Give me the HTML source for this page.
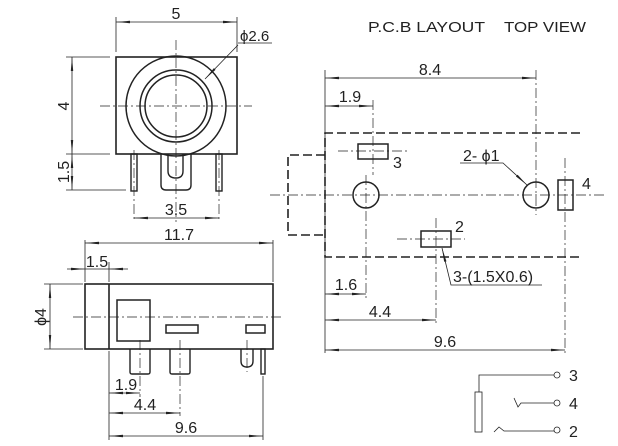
<!DOCTYPE html>
<html><head><meta charset="utf-8"><style>html,body{margin:0;padding:0;background:#fff}svg{display:block}</style></head>
<body>
<svg width="618" height="446" viewBox="0 0 618 446" xmlns="http://www.w3.org/2000/svg" font-family="Liberation Sans, sans-serif" fill="none">
<defs>
<marker id="a" markerWidth="14" markerHeight="6" refX="14" refY="3" orient="auto-start-reverse" markerUnits="userSpaceOnUse"><path d="M0,1.8 L14,3 L0,4.2 Z" fill="#222"/></marker>
</defs>
<g stroke="#222" stroke-width="0.8">
<rect x="116" y="57" width="121" height="97" stroke-width="1.6"/>
<circle cx="176" cy="106" r="50" stroke-width="1.5"/>
<circle cx="176" cy="106" r="36" stroke-width="1.5"/>
<circle cx="176" cy="106" r="31" stroke-width="1.5"/>
<g stroke-dasharray="10,3,2,3" stroke-width="0.7">
<line x1="100" y1="106" x2="252" y2="106"/>
<line x1="176" y1="40" x2="176" y2="222"/>
<line x1="134" y1="150" x2="134" y2="222"/>
<line x1="219" y1="150" x2="219" y2="222"/>
</g>
<rect x="131" y="154" width="6" height="37" stroke-width="1.4"/>
<rect x="216" y="154" width="6" height="37" stroke-width="1.4"/>
<path d="M161,154 V185 Q161,190 166,190 H186 Q191,190 191,185 V154" stroke-width="1.4"/>
<path d="M168,154 V171 Q168,178 176,178 Q183,178 183,171 V154" stroke-width="1.4"/>
<line x1="116" y1="17" x2="116" y2="52"/><line x1="237" y1="17" x2="237" y2="52"/>
<line x1="116" y1="22" x2="237" y2="22" marker-start="url(#a)" marker-end="url(#a)"/>
<line x1="238" y1="43" x2="272" y2="43"/>
<line x1="238" y1="45" x2="205" y2="79" marker-end="url(#a)"/>
<line x1="66" y1="57" x2="110" y2="57"/><line x1="66" y1="154" x2="110" y2="154"/>
<line x1="66" y1="190" x2="126" y2="190"/>
<line x1="72" y1="57" x2="72" y2="154" marker-start="url(#a)" marker-end="url(#a)"/>
<line x1="72" y1="154" x2="72" y2="190" marker-start="url(#a)" marker-end="url(#a)"/>
<line x1="134" y1="218" x2="219" y2="218" marker-start="url(#a)" marker-end="url(#a)"/>

<rect x="85" y="284" width="188" height="65" stroke-width="1.6"/>
<line x1="109" y1="284" x2="109" y2="349" stroke-width="1.6"/>
<rect x="117" y="300" width="33" height="41" stroke-width="1.5"/>
<rect x="166" y="325" width="32" height="8" stroke-width="1.5"/>
<rect x="246" y="325" width="19" height="8" stroke-width="1.5"/>
<path d="M130,349 V372 Q130,374 132,374 H148 Q150,374 150,372 V349" stroke-width="1.4"/>
<path d="M170,349 V372 Q170,374 172,374 H188 Q190,374 190,372 V349" stroke-width="1.4"/>
<path d="M241,349 V361 Q241,367 247,367 Q253,367 253,361 V349" stroke-width="1.4"/>
<rect x="261" y="349" width="4" height="25" stroke-width="1.4"/>
<g stroke-dasharray="10,3,2,3" stroke-width="0.7">
<line x1="73" y1="317" x2="282" y2="317"/>
<line x1="140" y1="340" x2="140" y2="397"/>
<line x1="180" y1="340" x2="180" y2="416"/>
<line x1="247" y1="340" x2="247" y2="372"/>
</g>
<line x1="85" y1="240" x2="85" y2="282"/><line x1="273" y1="240" x2="273" y2="282"/>
<line x1="85" y1="243" x2="273" y2="243" marker-start="url(#a)" marker-end="url(#a)"/>
<line x1="109" y1="262" x2="109" y2="282"/>
<line x1="67" y1="269" x2="85" y2="269" marker-end="url(#a)"/>
<line x1="128" y1="269" x2="109" y2="269" marker-end="url(#a)"/>
<line x1="85" y1="269" x2="109" y2="269"/>
<line x1="44" y1="284" x2="83" y2="284"/><line x1="44" y1="349" x2="83" y2="349"/>
<line x1="50" y1="284" x2="50" y2="349" marker-start="url(#a)" marker-end="url(#a)"/>
<line x1="109" y1="351" x2="109" y2="440"/>
<line x1="263" y1="376" x2="263" y2="440"/>
<line x1="109" y1="393" x2="140" y2="393" marker-start="url(#a)" marker-end="url(#a)"/>
<line x1="109" y1="413" x2="180" y2="413" marker-start="url(#a)" marker-end="url(#a)"/>
<line x1="109" y1="436" x2="263" y2="436" marker-start="url(#a)" marker-end="url(#a)"/>

<g stroke-dasharray="9,4" stroke-width="1.6">
<path d="M580,133 H325 V257 H580"/>
<path d="M325,155 H288 V235 H325"/>
</g>
<g stroke-dasharray="10,3,2,3" stroke-width="0.7">
<line x1="270" y1="195" x2="605" y2="195"/>
<line x1="366" y1="175" x2="366" y2="298"/>
<line x1="536" y1="70" x2="536" y2="215"/>
<line x1="565" y1="158" x2="565" y2="353"/>
<line x1="436" y1="218" x2="436" y2="323"/>
<line x1="373" y1="100" x2="373" y2="175"/>
<line x1="338" y1="151" x2="408" y2="151"/>
<line x1="397" y1="239" x2="465" y2="239"/>
</g>
<circle cx="366" cy="195" r="13" stroke-width="1.5"/>
<circle cx="536" cy="195" r="13" stroke-width="1.5"/>
<rect x="358" y="144" width="30" height="15" stroke-width="1.5"/>
<rect x="421" y="231" width="30" height="16" stroke-width="1.5"/>
<rect x="558" y="180" width="15" height="30" stroke-width="1.5"/>
<line x1="325" y1="70" x2="325" y2="353"/>
<line x1="325" y1="78" x2="536" y2="78" marker-start="url(#a)" marker-end="url(#a)"/>
<line x1="325" y1="106" x2="373" y2="106" marker-start="url(#a)" marker-end="url(#a)"/>
<line x1="325" y1="294" x2="366" y2="294" marker-start="url(#a)" marker-end="url(#a)"/>
<line x1="325" y1="320" x2="436" y2="320" marker-start="url(#a)" marker-end="url(#a)"/>
<line x1="325" y1="350" x2="565" y2="350" marker-start="url(#a)" marker-end="url(#a)"/>
<polyline points="460,163 503,163 527,185" marker-end="url(#a)"/>
<polyline points="542,285 451,285 442,248" marker-end="url(#a)"/>

<polyline points="554,375 479,375 479,392"/>
<rect x="475" y="392" width="7" height="40"/>
<circle cx="557" cy="375" r="3"/>
<circle cx="557" cy="403" r="3"/>
<circle cx="557" cy="430" r="3"/>
<polyline points="514,398 518,407 521,403 554,403"/>
<polyline points="494,432 499,427 504,431 554,431"/>
</g>
<g fill="#222" font-size="16">
<text x="176" y="19" text-anchor="middle">5</text>
<text x="240" y="41" font-size="15">ϕ2.6</text>
<text x="176" y="215" text-anchor="middle">3.5</text>
<text transform="translate(69,106) rotate(-90)" text-anchor="middle">4</text>
<text transform="translate(69,172) rotate(-90)" text-anchor="middle">1.5</text>
<text x="179" y="240" text-anchor="middle">11.7</text>
<text x="97" y="267" text-anchor="middle">1.5</text>
<text transform="translate(46,317) rotate(-90)" text-anchor="middle">ϕ4</text>
<text x="126" y="390" text-anchor="middle">1.9</text>
<text x="145" y="410" text-anchor="middle">4.4</text>
<text x="186" y="433" text-anchor="middle">9.6</text>
<text x="368" y="32" font-size="15" textLength="117" lengthAdjust="spacingAndGlyphs">P.C.B LAYOUT</text>
<text x="504" y="32" font-size="15" textLength="82" lengthAdjust="spacingAndGlyphs">TOP VIEW</text>
<text x="430" y="75" text-anchor="middle">8.4</text>
<text x="350" y="102" text-anchor="middle">1.9</text>
<text x="393" y="168">3</text>
<text x="455" y="232">2</text>
<text x="582" y="189">4</text>
<text x="463" y="161">2- ϕ1</text>
<text x="453" y="282">3-(1.5X0.6)</text>
<text x="346" y="290" text-anchor="middle">1.6</text>
<text x="380" y="317" text-anchor="middle">4.4</text>
<text x="445" y="347" text-anchor="middle">9.6</text>
<text x="569" y="381">3</text>
<text x="569" y="409">4</text>
<text x="569" y="437">2</text>
</g>
</svg>
</body></html>
